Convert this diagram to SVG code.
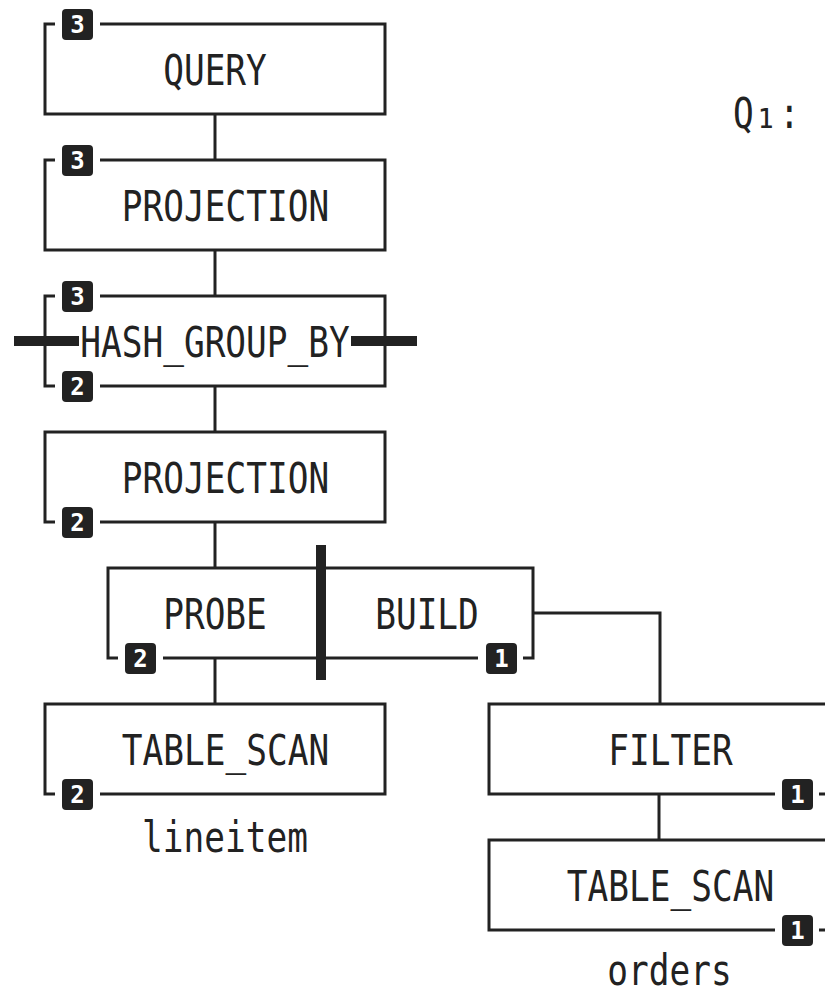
<svg xmlns="http://www.w3.org/2000/svg" width="825" height="994" viewBox="0 0 825 994">
  <style>
    .box { fill: none; stroke: #222; stroke-width: 3; stroke-linejoin: miter; stroke-linecap: butt; }
    .wire { fill: none; stroke: #222; stroke-width: 3; }
    .bar { fill: #222; }
    .label { font-family: "DejaVu Sans Mono", "Liberation Mono", monospace; font-size: 42px; fill: #222; text-anchor: middle; }
    .note { font-family: "DejaVu Sans Mono", "Liberation Mono", monospace; font-size: 42px; fill: #222; }
    .badge rect { fill: #222; }
    .badge text { font-family: "DejaVu Sans Mono", "Liberation Mono", monospace; font-weight: bold; font-size: 24px; fill: #fff; text-anchor: middle; }
  </style>
  <defs>
    <g id="b1" class="badge"><rect x="-15" y="-15" width="31" height="31" rx="4"/><text x="0.5" y="9">1</text></g>
    <g id="b2" class="badge"><rect x="-15" y="-15" width="31" height="31" rx="4"/><text x="0.5" y="9">2</text></g>
    <g id="b3" class="badge"><rect x="-15" y="-15" width="31" height="31" rx="4"/><text x="0.5" y="9">3</text></g>
  </defs>
  <rect width="825" height="994" fill="#fff"/>

  <g id="connectors">
    <line class="wire" x1="215" y1="114" x2="215" y2="160"/>
    <line class="wire" x1="215" y1="250" x2="215" y2="296"/>
    <line class="wire" x1="215" y1="386" x2="215" y2="432"/>
    <line class="wire" x1="215" y1="522" x2="215" y2="568"/>
    <line class="wire" x1="215" y1="658" x2="215" y2="704"/>
    <polyline class="wire" points="533,613 660,613 660,704"/>
    <line class="wire" x1="659" y1="794" x2="659" y2="840"/>
  </g>

  <g id="query">
    <path class="box" d="M55,24 H45 V114 H385 V24 H100"/>
    <use href="#b3" x="77" y="24"/>
    <text class="label" transform="translate(215 85) scale(0.82 1)">QUERY</text>
  </g>

  <g id="projection-top">
    <path class="box" d="M55,160 H45 V250 H385 V160 H100"/>
    <use href="#b3" x="77" y="160"/>
    <text class="label" transform="translate(225.5 221) scale(0.82 1)">PROJECTION</text>
  </g>

  <g id="hash-group-by">
    <path class="box" d="M55,296 H45 V386 H55 M100,386 H385 V296 H100"/>
    <use href="#b3" x="77" y="296"/>
    <use href="#b2" x="77" y="386"/>
    <rect class="bar" x="14" y="336" width="65" height="10"/>
    <rect class="bar" x="351" y="336" width="66" height="10"/>
    <text class="label" transform="translate(215 357) scale(0.82 1)">HASH_GROUP_BY</text>
  </g>

  <g id="projection-bottom">
    <path class="box" d="M100,522 H385 V432 H45 V522 H55"/>
    <use href="#b2" x="77" y="522"/>
    <text class="label" transform="translate(225.5 493) scale(0.82 1)">PROJECTION</text>
  </g>

  <g id="hash-join">
    <path class="box" d="M118,658 H108 V568 H533 V658 H523 M478,658 H163"/>
    <use href="#b2" x="140" y="658"/>
    <use href="#b1" x="501" y="658"/>
    <rect class="bar" x="316" y="545" width="10" height="135"/>
    <text class="label" transform="translate(215 629) scale(0.82 1)">PROBE</text>
    <text class="label" transform="translate(427 629) scale(0.82 1)">BUILD</text>
  </g>

  <g id="scan-lineitem">
    <path class="box" d="M100,794 H385 V704 H45 V794 H55"/>
    <use href="#b2" x="77" y="794"/>
    <text class="label" transform="translate(225.5 765) scale(0.82 1)">TABLE_SCAN</text>
    <text class="label" transform="translate(225 852) scale(0.82 1)">lineitem</text>
  </g>

  <g id="filter">
    <path class="box" d="M775,794 H489 V704 H829 V794 H819"/>
    <use href="#b1" x="797" y="794"/>
    <text class="label" transform="translate(670.5 765) scale(0.82 1)">FILTER</text>
  </g>

  <g id="scan-orders">
    <path class="box" d="M775,930 H489 V840 H829 V930 H819"/>
    <use href="#b1" x="797" y="930"/>
    <text class="label" transform="translate(670.5 901) scale(0.82 1)">TABLE_SCAN</text>
    <text class="label" transform="translate(669.5 985) scale(0.82 1)">orders</text>
  </g>

  <text class="note" transform="translate(733 128) scale(0.82 1)">Q<tspan x="26" font-size="48">₁</tspan><tspan x="56">:</tspan></text>
</svg>
